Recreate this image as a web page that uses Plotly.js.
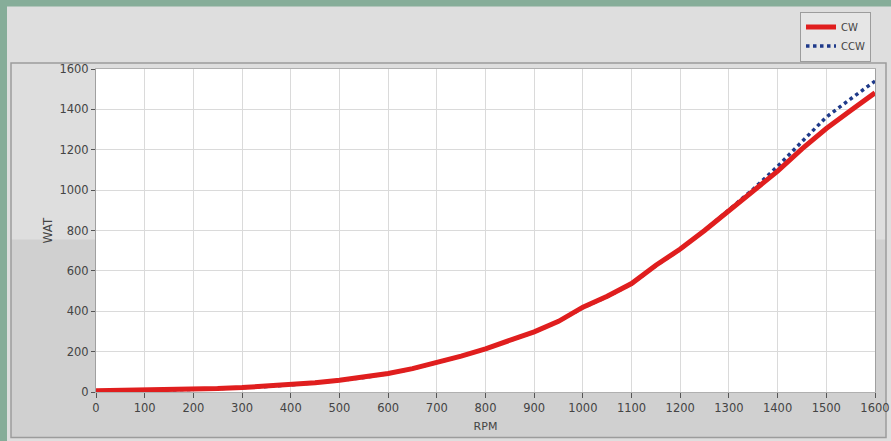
<!DOCTYPE html>
<html>
<head>
<meta charset="utf-8">
<script src="https://cdn.plot.ly/plotly-3.0.1.min.js"></script>
<style>html,body{margin:0;padding:0;background:#86ad99;}#chart{width:891px;height:441px;}</style>
</head>
<body>
<div id="chart"></div>
<script>
// ---- data ----
const rpm = [0,50,100,150,200,250,300,350,400,450,500,550,600,650,700,750,800,850,900,950,1000,1050,1100,1150,1200,1250,1300,1350,1400,1450,1500,1550,1600];
const wattCW  = [6,7,9,11,14,17,22,28,36,46,58,73,92,116,146,178,214,254,298,350,420,474,537,628,708,800,898,996,1094,1204,1305,1395,1482];
const wattCCW = [5,6,8,10,13,17,21,27,35,45,57,72,91,115,145,177,213,253,297,349,418,472,535,626,706,800,900,1005,1118,1240,1362,1452,1540];
const xTicks = [0,100,200,300,400,500,600,700,800,900,1000,1100,1200,1300,1400,1500,1600];
const yTicks = [0,200,400,600,800,1000,1200,1400,1600];
const seriesNames = ["CW","CCW"];

// ---- layout helpers (pixel -> paper) ----
const W = 891, H = 441, L = 96, R = 875, T = 66, B = 392;
const px = p => (p - L) / (R - L);
const py = p => (B - p) / (B - T);

const traces = [
  {x: rpm, y: wattCCW, name: seriesNames[1], mode: 'lines', legendrank: 2,
   line: {color: '#1f3a8a', width: 3.5, dash: 'dot'}},
  {x: rpm, y: wattCW, name: seriesNames[0], mode: 'lines', legendrank: 1,
   line: {color: '#e01e1e', width: 5}}
];

const shapes = [
  {type:'rect', xref:'paper', yref:'paper', x0:px(7), x1:px(W+2), y0:py(H+2), y1:py(3),
   fillcolor:'#dedede', line:{width:0}, layer:'below'},
  {type:'rect', xref:'paper', yref:'paper', x0:px(11), x1:px(886), y0:py(438), y1:py(238),
   fillcolor:'#d0d0d0', line:{width:0}, layer:'below'},
  {type:'rect', xref:'paper', yref:'paper', x0:px(11), x1:px(886), y0:py(438), y1:py(60),
   fillcolor:'rgba(0,0,0,0)', line:{width:1.5, color:'#9c9c9c'}, layer:'below'},
  {type:'rect', xref:'paper', yref:'paper', x0:0, x1:1, y0:0, y1:1,
   fillcolor:'#ffffff', line:{width:0}, layer:'below'}
];

const tickFont = {family:'DejaVu Sans', size:11.5, color:'#444'};

const layout = {
  width: W, height: H,
  margin: {l: L, r: W - R, t: T, b: H - B, pad: 0},
  paper_bgcolor: '#86ad99',
  plot_bgcolor: '#ffffff',
  showlegend: true,
  legend: {x: px(800), y: py(8), xanchor:'left', yanchor:'top',
           bgcolor:'#e6e6e6', bordercolor:'#9c9c9c', borderwidth:1,
           font:{family:'DejaVu Sans', size:10, color:'#444'}, traceorder:'normal'},
  xaxis: {range:[0,1600], tickvals: xTicks, ticktext: xTicks.map(String),
          showgrid:true, gridcolor:'#dadada', gridwidth:1, zeroline:false,
          ticks:'outside', ticklen:5, tickcolor:'#555', tickwidth:1,
          showline:true, linecolor:'#b0b0b0', mirror:true,
          tickfont: tickFont,
          title:{text:'RPM', font:{family:'DejaVu Sans', size:11, color:'#444'}, standoff:8}},
  yaxis: {range:[0,1600], tickvals: yTicks, ticktext: yTicks.map(String),
          showgrid:true, gridcolor:'#dadada', gridwidth:1, zeroline:false,
          ticks:'outside', ticklen:4, tickcolor:'#555', tickwidth:1,
          showline:true, linecolor:'#a0a0a0', mirror:true,
          tickfont: tickFont,
          title:{text:'WAT', font:{family:'DejaVu Sans', size:12, color:'#444'}, standoff:4}},
  shapes: shapes
};

Plotly.newPlot('chart', traces, layout, {displayModeBar:false, staticPlot:true});
</script>
</body>
</html>
